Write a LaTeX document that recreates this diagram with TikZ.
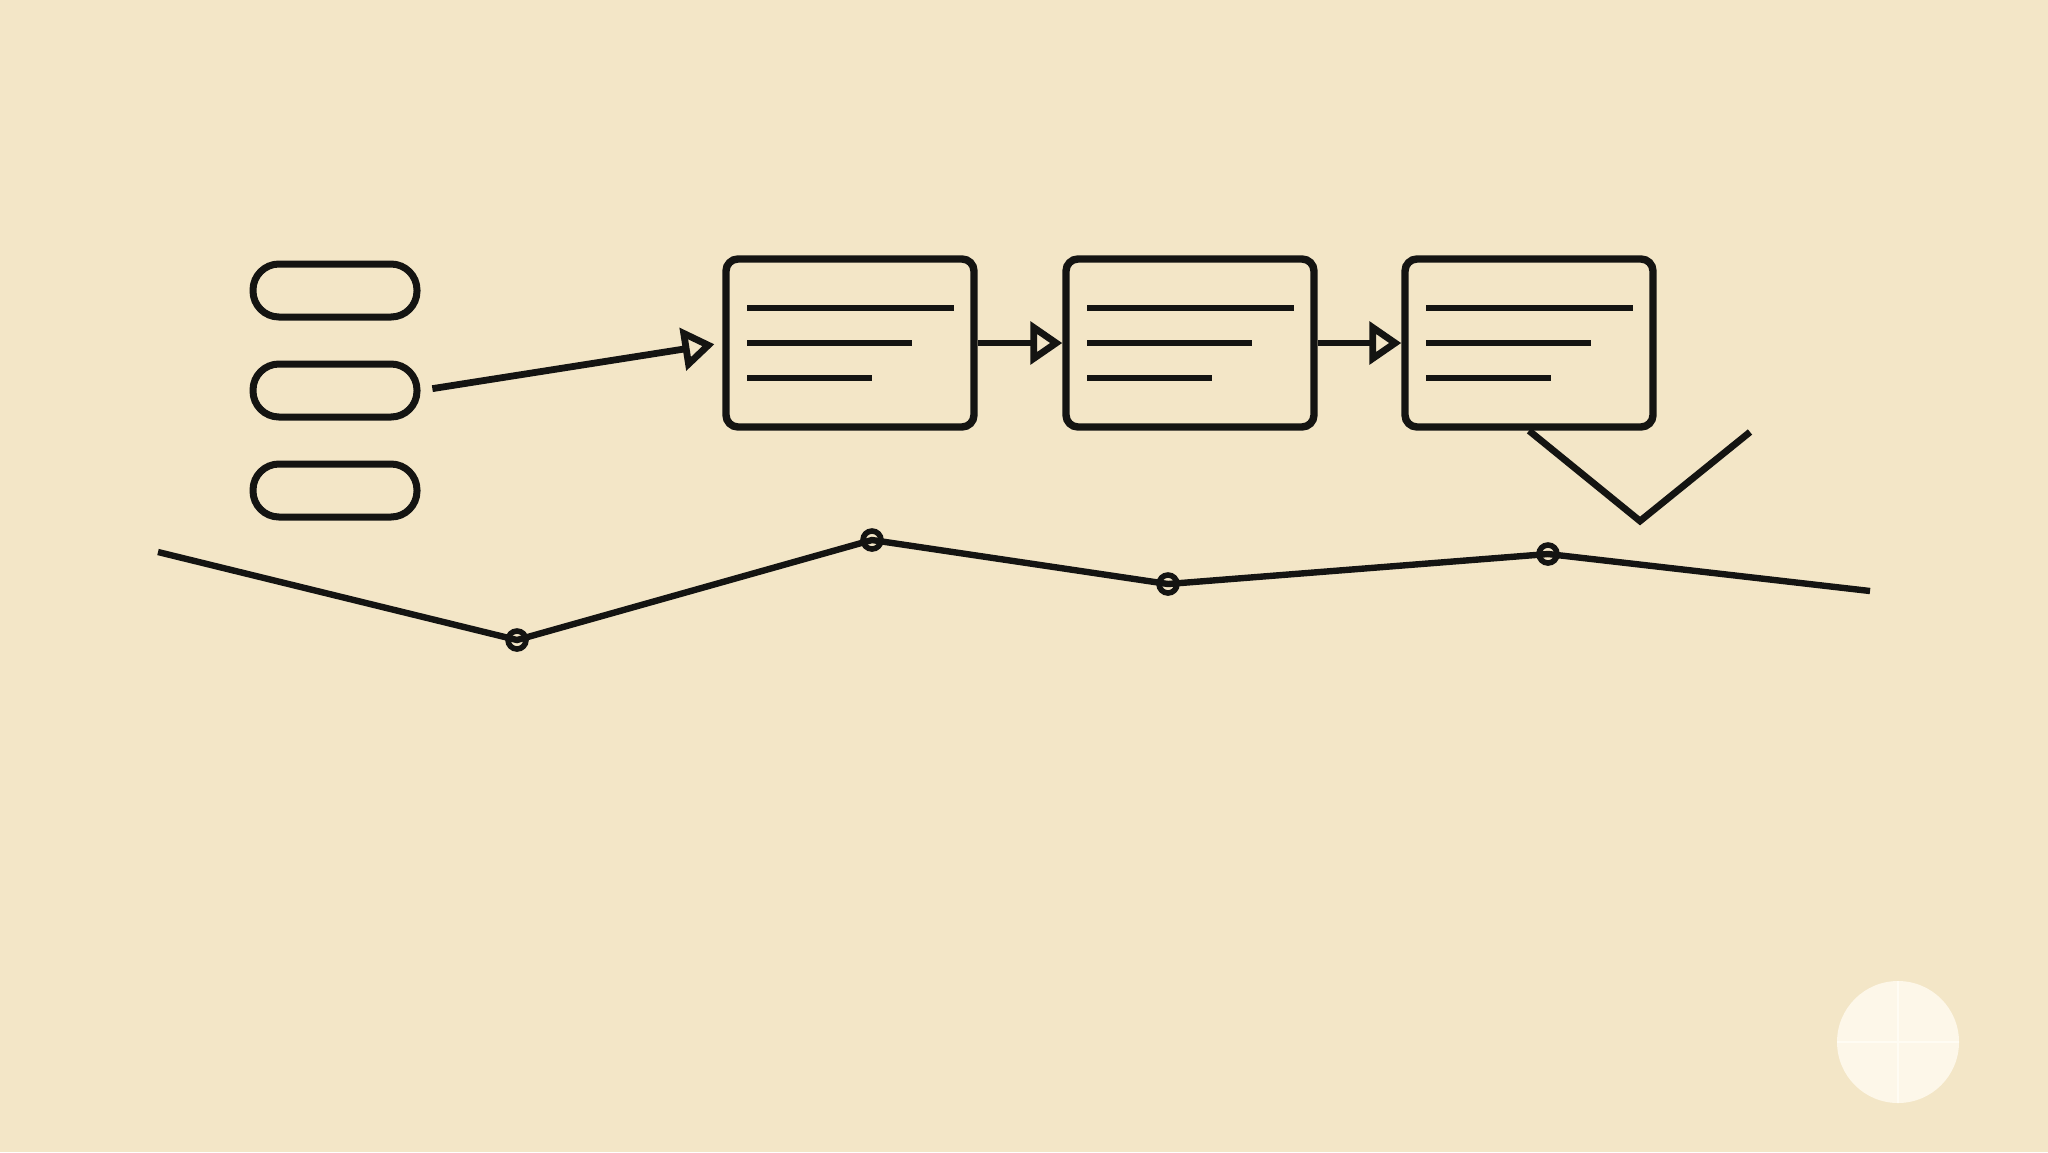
\documentclass[tikz,border=0pt]{standalone}
\usetikzlibrary{arrows.meta}
\definecolor{bg}{HTML}{F3E6C7}
\definecolor{ink}{HTML}{141412}
\definecolor{sunfill}{HTML}{FDF7E9}
\definecolor{sunline}{HTML}{FFFCF3}
\begin{document}
\begin{tikzpicture}[x=0.5pt,y=-0.5pt,
 pill/.style={draw=ink, line width=3.5pt, rectangle, rounded corners=13pt, minimum width=82pt, minimum height=26.5pt, inner sep=0pt},
 card/.style={draw=ink, line width=3.7pt, rectangle, rounded corners=6pt, minimum width=124pt, minimum height=84pt, inner sep=0pt},
 textline/.style={draw=ink, line width=3.2pt},
 conn/.style={draw=ink, line width=3.4pt, -{Triangle[open, length=16pt, width=21pt, line width=3.4pt]}},
 trace/.style={draw=ink, line width=3.2pt, line join=miter},
 dot/.style={circle, draw=ink, line width=2.8pt, minimum size=9pt, inner sep=0pt},
 sunstyle/.style={circle, fill=sunfill, minimum size=61pt, inner sep=0pt}
]
\fill[bg] (0,0) rectangle (2048,1152);
\useasboundingbox (0,0) rectangle (2048,1152);

% pills
\node[pill] (p1) at (335,290.5) {};
\node[pill] (p2) at (335,390.5) {};
\node[pill] (p3) at (335,490.5) {};

% cards
\foreach \n/\cx in {b1/850, b2/1190, b3/1529}{
  \node[card] (\n) at (\cx,343) {};
  \draw[textline] ([xshift=-51.5pt,yshift=17.5pt]\n.center) -- ([xshift=52pt,yshift=17.5pt]\n.center);
  \draw[textline] ([xshift=-51.5pt]\n.center) -- ([xshift=31pt]\n.center);
  \draw[textline] ([xshift=-51.5pt,yshift=-17.5pt]\n.center) -- ([xshift=11pt,yshift=-17.5pt]\n.center);
}

% connectors
\draw[conn, shorten <=6pt, shorten >=4pt] (p2.east) -- (b1.west);
\draw[conn] (b1.east) -- (b2.west);
\draw[conn] (b2.east) -- (b3.west);

% check mark
\coordinate (ck1) at (1640,521);
\coordinate (ck2) at (1750,432);
\draw[ink, line width=3.4pt, line join=miter] (b3.south) -- (ck1) -- (ck2);

% trace
\coordinate (v0) at (158,552);
\coordinate (v1) at (517,640);
\coordinate (v2) at (872,540);
\coordinate (v3) at (1168,584);
\coordinate (v4) at (1548,554);
\coordinate (v5) at (1870,591);
\draw[trace] (v0) -- (v1) -- (v2) -- (v3) -- (v4) -- (v5);
\foreach \v in {v1,v2,v3,v4}{ \node[dot] (d\v) at (\v) {}; }

% sun
\node[sunstyle] (sun) at (1898,1042) {};
\draw[sunline, line width=1.2pt] (sun.north) -- (sun.south);
\draw[sunline, line width=1.2pt] (sun.west) -- (sun.east);
\end{tikzpicture}
\end{document}
